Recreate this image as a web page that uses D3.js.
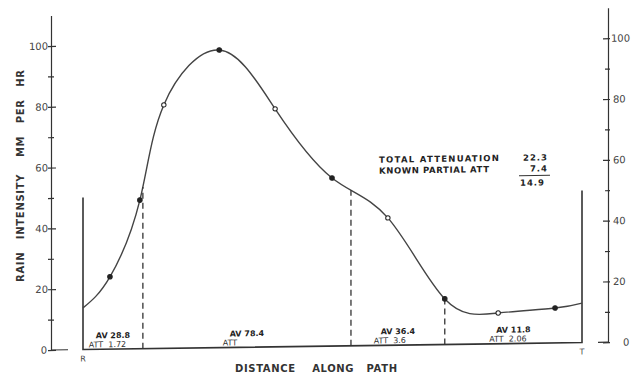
<!DOCTYPE html>
<html>
<head>
<meta charset="utf-8">
<script src="https://cdn.jsdelivr.net/npm/d3@7"></script>
<style>
  body { margin: 0; background: #fff; }
  svg { display: block; font-family: "DejaVu Sans", sans-serif; }
</style>
</head>
<body>
<script>
// distance along the path R -> T (percent of path) and rain rate, mm per hr
const distance = [0, 5.4, 11.4, 16.2, 27.3, 38.5, 49.9, 61.1, 72.5, 83.2, 94.6, 100];
const rainRate = [13.7, 23.8, 48.9, 80.1, 97.9, 78.3, 55.3, 41.9, 15.0, 10.1, 11.5, 13.0];
const markerKind = ["", "filled", "filled", "open", "filled", "open", "filled", "open", "filled", "open", "filled", ""];

// path segments and their average rate / attenuation
const segBounds = [0, 12.0, 53.7, 72.5, 100];
const segAv = ["28.8", "78.4", "36.4", "11.8"];
const segAtt = ["1.72", "", "3.6", "2.06"];

const yTicks = [0, 20, 40, 60, 80, 100];
const yMinor = [10, 30, 50, 70, 90];
const endLabels = ["R", "T"];
const frameTop = 50;

const summaryLabels = ["TOTAL ATTENUATION", "KNOWN PARTIAL ATT"];
const summaryValues = ["22.3", "7.4"];
const summaryResult = "14.9";

const w = 635;
const h = 376;
const ink = "#333";

const svg = d3.select("body")
  .append("svg")
  .attr("width", w)
  .attr("height", h);

const x = d3.scaleLinear().domain([0, 100]).range([83, 582]);
const y = d3.scaleLinear().domain([0, 110]).range([350.7, 16.3]);

// the scanned sheet is slightly sheared, right side higher
const g = svg.append("g").attr("transform", "skewY(-0.8)");

// left axis
const leftX = 51;
const leftAxis = g.append("g")
  .attr("transform", `translate(${leftX},0)`)
  .call(d3.axisLeft(y).tickValues(yTicks).tickSizeInner(-5).tickSizeOuter(0).tickPadding(3));
leftAxis.append("g")
  .call(d3.axisLeft(y).tickValues(yMinor).tickSizeInner(-3).tickSizeOuter(0).tickFormat(""))
  .select(".domain").remove();

// right axis
const rightX = 608;
const rightAxis = g.append("g")
  .attr("transform", `translate(${rightX},0)`)
  .call(d3.axisRight(y).tickValues(yTicks).tickSizeInner(-5).tickSizeOuter(0).tickPadding(5));
rightAxis.append("g")
  .call(d3.axisRight(y).tickValues(yMinor).tickSizeInner(-3).tickSizeOuter(0).tickFormat(""))
  .select(".domain").remove();

[leftAxis, rightAxis].forEach(ax => {
  ax.selectAll("path, line").attr("stroke", ink).attr("stroke-width", 1.2);
  ax.selectAll("text")
    .attr("fill", "#444")
    .attr("font-size", 10)
    .attr("font-family", "'DejaVu Sans', sans-serif");
});
leftAxis.selectAll(".tick line").attr("x1", -3);
rightAxis.selectAll(".tick line").attr("x1", 2);
rightAxis.selectAll(".tick").filter(d => d === 0).select("text").attr("dx", 10);
rightAxis.selectAll(".tick").filter(d => d === 100).select("text").attr("dx", -2);
leftAxis.selectAll(".tick").filter(d => d === 0).select("text").attr("dx", -1);

// feet at zero
g.append("line")
  .attr("x1", leftX).attr("x2", leftX + 17)
  .attr("y1", y(0)).attr("y2", y(0))
  .attr("stroke", ink).attr("stroke-width", 1.2);
g.append("line")
  .attr("x1", rightX - 10).attr("x2", rightX)
  .attr("y1", y(0)).attr("y2", y(0))
  .attr("stroke", ink).attr("stroke-width", 1.2);

// frame R ... T
g.append("path")
  .attr("d", `M${x(0)},${y(frameTop)}V${y(0)}H${x(100)}V${y(frameTop)}`)
  .attr("fill", "none")
  .attr("stroke", ink)
  .attr("stroke-width", 1.6);

// rain profile
const pts = distance.map((d, i) => ({ d: d, v: rainRate[i], kind: markerKind[i] }));
const line = d3.line()
  .x(p => x(p.d))
  .y(p => y(p.v))
  .curve(d3.curveNatural);

const curve = g.append("path")
  .datum(pts)
  .attr("d", line)
  .attr("fill", "none")
  .attr("stroke", "#444")
  .attr("stroke-width", 1.4);

// find curve height at a given x position
const node = curve.node();
const total = node.getTotalLength();
function curveYAt(px) {
  let lo = 0, hi = total;
  for (let k = 0; k < 30; k++) {
    const mid = (lo + hi) / 2;
    if (node.getPointAtLength(mid).x < px) lo = mid; else hi = mid;
  }
  return node.getPointAtLength((lo + hi) / 2).y;
}

// dashed segment dividers
g.selectAll(".divider")
  .data(segBounds.slice(1, -1))
  .enter()
  .append("line")
  .attr("class", "divider")
  .attr("x1", d => x(d)).attr("x2", d => x(d))
  .attr("y1", y(0))
  .attr("y2", d => curveYAt(x(d)))
  .attr("stroke", ink)
  .attr("stroke-width", 1.3)
  .attr("stroke-dasharray", "6,4");

// markers
g.selectAll(".dot")
  .data(pts.filter(p => p.kind))
  .enter()
  .append("circle")
  .attr("class", "dot")
  .attr("cx", p => x(p.d))
  .attr("cy", p => y(p.v))
  .attr("r", p => p.kind === "open" ? 2.2 : 2.3)
  .attr("fill", p => p.kind === "open" ? "#fff" : "#222")
  .attr("stroke", "#222")
  .attr("stroke-width", 1);

// segment labels
segAv.forEach((av, i) => {
  const cx = x((segBounds[i] + segBounds[i + 1]) / 2);
  const t = g.append("text")
    .attr("x", cx)
    .attr("y", y(0) - 11)
    .attr("text-anchor", "middle")
    .attr("font-size", 8)
    .attr("font-weight", "bold")
    .attr("fill", "#222")
    .text("AV  " + av);
  const left = t.node().getBBox().x;
  g.append("text")
    .attr("x", left - 7)
    .attr("y", y(0) - 2)
    .attr("font-size", 8)
    .attr("fill", "#333")
    .attr("xml:space", "preserve")
    .text("ATT  " + segAtt[i]);
});

// R and T
g.selectAll(".endlabel")
  .data(endLabels)
  .enter()
  .append("text")
  .attr("class", "endlabel")
  .attr("x", (d, i) => x(i * 100))
  .attr("y", y(0) + 12)
  .attr("text-anchor", "middle")
  .attr("font-size", 8)
  .attr("fill", "#444")
  .text(d => d);

// attenuation summary
const sumX = 379;
const valX = 548;
g.selectAll(".sumlabel")
  .data(summaryLabels)
  .enter()
  .append("text")
  .attr("class", "sumlabel")
  .attr("x", sumX)
  .attr("y", (d, i) => 168 + i * 11)
  .attr("font-size", 8.5)
  .attr("font-weight", "bold")
  .attr("fill", "#222")
  .attr("textLength", (d, i) => i === 0 ? 120 : 110)
  .attr("lengthAdjust", "spacing")
  .text(d => d);
g.selectAll(".sumval")
  .data(summaryValues)
  .enter()
  .append("text")
  .attr("class", "sumval")
  .attr("x", valX)
  .attr("y", (d, i) => 168 + i * 11)
  .attr("text-anchor", "end")
  .attr("font-size", 8.5)
  .attr("font-weight", "bold")
  .attr("fill", "#222")
  .attr("letter-spacing", 1)
  .text(d => d);
g.append("line")
  .attr("x1", 519).attr("x2", 550)
  .attr("y1", 183).attr("y2", 183)
  .attr("stroke", "#333").attr("stroke-width", 1);
g.append("text")
  .attr("x", valX - 3)
  .attr("y", 193)
  .attr("text-anchor", "end")
  .attr("font-size", 8.5)
  .attr("font-weight", "bold")
  .attr("fill", "#222")
  .attr("letter-spacing", 1)
  .text(summaryResult);

// axis titles
svg.append("text")
  .attr("transform", "translate(24,176) rotate(-90)")
  .attr("text-anchor", "middle")
  .attr("font-size", 10)
  .attr("font-weight", "bold")
  .attr("fill", "#333")
  .attr("textLength", 212)
  .attr("lengthAdjust", "spacing")
  .attr("xml:space", "preserve")
  .text("RAIN   INTENSITY    MM   PER   HR");

svg.append("text")
  .attr("x", 316)
  .attr("y", 372)
  .attr("text-anchor", "middle")
  .attr("font-size", 10)
  .attr("font-weight", "bold")
  .attr("fill", "#333")
  .attr("textLength", 162)
  .attr("lengthAdjust", "spacing")
  .attr("xml:space", "preserve")
  .text("DISTANCE    ALONG   PATH");
</script>
</body>
</html>
